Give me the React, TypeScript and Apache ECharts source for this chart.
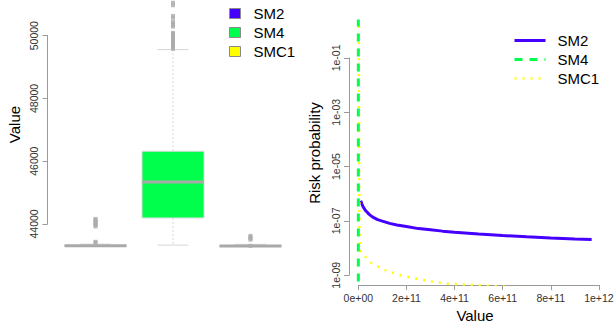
import { useEffect, useRef } from 'react';
import * as echarts from 'echarts';

// ---------- data: left boxplot ----------
const groups = ['SM2', 'SM4', 'SMC1'];
const groupColors = ['#4600FF', '#00FF4C', '#FFFF00'];
// [lower whisker, Q1, median, Q3, upper whisker]
const boxSM2 = [43290, 43296, 43302, 43308, 43356];
const boxSM4 = [43324, 44190, 45333, 46317, 49556];
const boxSMC1 = [43288, 43294, 43300, 43306, 43350];
const outSM2 = [43400, 43430, 43920, 43960, 44000, 44040, 44080, 44120, 44160];
const outSM4 = [49580, 49620, 49660, 49700, 49740, 49780, 49820, 49860, 49900, 49940, 49980, 50020, 50060, 50090, 50290, 50340, 50390, 50440, 50570, 50630, 50970, 51050];
const outSMC1 = [43300, 43500, 43540, 43580, 43620];
const leftTicks = [44000, 46000, 48000, 50000];
const leftTickLabels = ['44000', '46000', '48000', '50000'];

// ---------- data: right risk curves ----------
const riskX_SM2 = [0.01e12, 0.015e12, 0.02e12, 0.03e12, 0.045e12, 0.06e12, 0.08e12, 0.1e12, 0.13e12, 0.16e12, 0.2e12, 0.25e12, 0.3e12, 0.35e12, 0.4e12, 0.5e12, 0.6e12, 0.7e12, 0.8e12, 0.9e12, 0.97e12];
const riskSM2 = [5.5e-7, 4.2e-7, 3.3e-7, 2.4e-7, 1.74e-7, 1.38e-7, 1.12e-7, 9.8e-8, 8.1e-8, 7.1e-8, 6.2e-8, 5.2e-8, 4.7e-8, 4.2e-8, 3.8e-8, 3.3e-8, 2.9e-8, 2.6e-8, 2.35e-8, 2.15e-8, 2.05e-8];
const riskX_SM4 = [0, 0];
const riskSM4 = [10, 1e-11];
const riskX_SMC1 = [0.002e12, 0.003e12, 0.005e12, 0.008e12, 0.022e12, 0.057e12, 0.105e12, 0.174e12, 0.243e12, 0.31e12, 0.38e12, 0.506e12, 0.7e12, 0.97e12];
const riskSMC1 = [1.5, 1e-4, 3e-8, 8.3e-9, 5.5e-9, 2.7e-9, 1.62e-9, 1.0e-9, 7.4e-10, 5.75e-10, 4.8e-10, 4.27e-10, 3.3e-10, 2.4e-10];
const xTicks = [0, 2e11, 4e11, 6e11, 8e11, 1e12];
const xTickLabels = ['0e+00', '2e+11', '4e+11', '6e+11', '8e+11', '1e+12'];
const yTicks = [1e-9, 1e-7, 1e-5, 1e-3, 1e-1];
const yTickLabels = ['1e-09', '1e-07', '1e-05', '1e-03', '1e-01'];

const FONT = 'Liberation Sans, Arial, Helvetica, sans-serif';
const AXIS_COLOR = '#9a9a9a';
const LABEL_COLOR = '#333';

export default function App() {
  const ref = useRef<HTMLDivElement>(null);
  useEffect(() => {
    if (!ref.current) return;
    const chart = echarts.init(ref.current, undefined, { renderer: 'svg' });

    // left layout
    const lG = { left: 47.5, top: -7, width: 251, height: 263 };
    const allLeft = [...boxSM2, ...boxSM4, ...boxSMC1, ...outSM2, ...outSM4, ...outSMC1];
    const lMinD = Math.min(...allLeft), lMaxD = Math.max(...allLeft);
    const lPad = (lMaxD - lMinD) * 0.04;
    const lMin = lMinD - lPad, lMax = lMaxD + lPad;
    const lyPx = (v: number) => lG.top + (lMax - v) / (lMax - lMin) * lG.height;
    const lAxisTop = lyPx(leftTicks[leftTicks.length - 1]);
    const lAxisBot = lyPx(leftTicks[0]);

    // right layout
    const rG = { left: 349, top: 21, width: 252, height: 264 };
    const rxMaxD = riskX_SM2[riskX_SM2.length - 1];
    const rxMin = -0.04 * rxMaxD, rxMax = rxMaxD * 1.04;
    const lyLo = Math.log10(yTicks[0]), lyHi = 0;
    const ryPad = (lyHi - lyLo) * 0.04;
    const ryMin = lyLo - ryPad, ryMax = lyHi + ryPad;
    const rxPx = (v: number) => rG.left + (v - rxMin) / (rxMax - rxMin) * rG.width;
    const ryPx = (v: number) => rG.top + (ryMax - Math.log10(v)) / (ryMax - ryMin) * rG.height;
    const g3 = {
      left: rxPx(xTicks[0]),
      width: rxPx(xTicks[xTicks.length - 1]) - rxPx(xTicks[0]),
      top: ryPx(yTicks[yTicks.length - 1]),
      height: ryPx(yTicks[0]) - ryPx(yTicks[yTicks.length - 1]),
    };

    const renderBox = (params: any, api: any) => {
      const x = api.value(0);
      const vals = [1, 2, 3, 4, 5].map((i) => api.value(i));
      const [pLo, pQ1, pMed, pQ3, pHi] = vals.map((v) => api.coord([x, v]));
      const bw = api.size([0.8, 0])[0];
      const cx = pLo[0];
      const color = api.visual('color');
      const wh = { stroke: '#d6d6d6', lineWidth: 1, lineDash: [2, 2] };
      const st = { stroke: '#d6d6d6', lineWidth: 1 };
      return {
        type: 'group',
        children: [
          { type: 'line', shape: { x1: cx, y1: pQ3[1], x2: cx, y2: pHi[1] }, style: wh },
          { type: 'line', shape: { x1: cx, y1: pQ1[1], x2: cx, y2: pLo[1] }, style: wh },
          { type: 'line', shape: { x1: cx - bw / 4, y1: pHi[1], x2: cx + bw / 4, y2: pHi[1] }, style: st },
          { type: 'line', shape: { x1: cx - bw / 4, y1: pLo[1], x2: cx + bw / 4, y2: pLo[1] }, style: st },
          { type: 'rect', shape: { x: cx - bw / 2, y: pQ3[1], width: bw, height: pQ1[1] - pQ3[1] }, style: { fill: color, stroke: '#dcdcdc', lineWidth: 1 } },
          { type: 'line', shape: { x1: cx - bw / 2, y1: pMed[1], x2: cx + bw / 2, y2: pMed[1] }, style: { stroke: '#a9a9a9', lineWidth: 3 } },
        ],
      };
    };

    const boxes = [boxSM2, boxSM4, boxSMC1];
    const outs = [outSM2, outSM4, outSMC1];
    const boxSeries = groups.map((g, i) => ({
      type: 'custom',
      name: g,
      xAxisIndex: 0,
      yAxisIndex: 0,
      renderItem: renderBox,
      itemStyle: { color: groupColors[i] },
      encode: { x: 0, y: [1, 2, 3, 4, 5] },
      data: [[i + 1, ...boxes[i]]],
      silent: true,
    }));
    const outlierSeries = {
      type: 'scatter',
      name: 'outliers',
      xAxisIndex: 0,
      yAxisIndex: 0,
      symbol: 'rect',
      symbolSize: 4,
      itemStyle: { color: '#ababab' },
      silent: true,
      data: outs.flatMap((arr, i) => arr.map((v) => [i + 1, v])),
    };

    const lineBase = { type: 'line', xAxisIndex: 2, yAxisIndex: 2, symbol: 'none', showSymbol: false, silent: true, clip: true };
    const riskSeries = [
      { ...lineBase, name: 'SM2|r', data: riskX_SM2.map((x, i) => [x, riskSM2[i]]), itemStyle: { color: groupColors[0] }, lineStyle: { color: groupColors[0], width: 3 } },
      { ...lineBase, name: 'SMC1|r', data: riskX_SMC1.map((x, i) => [x, riskSMC1[i]]), itemStyle: { color: groupColors[2] }, lineStyle: { color: groupColors[2], width: 2.5, type: [2, 6] } },
      { ...lineBase, name: 'SM4|r', data: riskX_SM4.map((x, i) => [x, riskSM4[i]]), itemStyle: { color: groupColors[1] }, lineStyle: { color: groupColors[1], width: 3, type: [8, 7] } },
    ];

    const noAxis = { show: false };
    const nearest = (arr: number[], v: number, log = false) => {
      let best = 0, bd = Infinity;
      arr.forEach((t, i) => {
        const d = log ? Math.abs(Math.log10(t) - Math.log10(v)) : Math.abs(t - v);
        if (d < bd) { bd = d; best = i; }
      });
      return best;
    };

    const option: any = {
      animation: false,
      textStyle: { fontFamily: FONT },
      grid: [
        { ...lG, outerBoundsMode: 'none', containLabel: false },
        { left: lG.left, top: lAxisTop, width: 10, height: lAxisBot - lAxisTop, outerBoundsMode: 'none', containLabel: false },
        { ...rG, outerBoundsMode: 'none', containLabel: false },
        { ...g3, outerBoundsMode: 'none', containLabel: false },
      ],
      xAxis: [
        { type: 'value', gridIndex: 0, min: 0.38, max: 3.62, ...noAxis },
        { type: 'value', gridIndex: 1, min: 0, max: 1, ...noAxis },
        {
          type: 'value', gridIndex: 2, min: rxMin, max: rxMax,
          axisLine: { show: false, onZero: false },
          splitLine: { show: false },
          axisTick: { show: true, length: 5, customValues: xTicks, lineStyle: { color: AXIS_COLOR } },
          axisLabel: { show: true, customValues: xTicks, margin: 7, fontSize: 10.5, color: LABEL_COLOR, fontFamily: FONT, formatter: (v: number) => xTickLabels[nearest(xTicks, v)] },
          name: 'Value', nameLocation: 'middle', nameGap: 20,
          nameTextStyle: { fontSize: 15, color: '#000', fontFamily: FONT },
        },
        {
          type: 'value', gridIndex: 3, min: xTicks[0], max: xTicks[xTicks.length - 1],
          offset: rG.top + rG.height - (g3.top + g3.height),
          axisLine: { show: true, onZero: false, lineStyle: { color: AXIS_COLOR, width: 1 } },
          axisTick: { show: false }, axisLabel: { show: false }, splitLine: { show: false },
        },
      ],
      yAxis: [
        {
          type: 'value', gridIndex: 0, min: lMin, max: lMax,
          axisLine: { show: false, onZero: false },
          splitLine: { show: false },
          axisTick: { show: true, length: 5, customValues: leftTicks, lineStyle: { color: AXIS_COLOR } },
          axisLabel: { show: true, customValues: leftTicks, rotate: 90, margin: 8, fontSize: 10.5, color: LABEL_COLOR, fontFamily: FONT, formatter: (v: number) => leftTickLabels[nearest(leftTicks, v)] },
          name: 'Value', nameLocation: 'middle', nameGap: 26,
          nameTextStyle: { fontSize: 15, color: '#000', fontFamily: FONT },
        },
        {
          type: 'value', gridIndex: 1, min: leftTicks[0], max: leftTicks[leftTicks.length - 1],
          axisLine: { show: true, onZero: false, lineStyle: { color: AXIS_COLOR, width: 1 } },
          axisTick: { show: false }, axisLabel: { show: false }, splitLine: { show: false },
        },
        {
          type: 'log', logBase: 10, gridIndex: 2, min: Math.pow(10, ryMin), max: Math.pow(10, ryMax),
          axisLine: { show: false, onZero: false },
          splitLine: { show: false },
          minorTick: { show: false }, minorSplitLine: { show: false },
          axisTick: { show: true, length: 5, customValues: yTicks, lineStyle: { color: AXIS_COLOR } },
          axisLabel: { show: true, customValues: yTicks, rotate: 90, margin: 8, fontSize: 10.5, color: LABEL_COLOR, fontFamily: FONT, formatter: (v: number) => yTickLabels[nearest(yTicks, v, true)] },
          name: 'Risk probability', nameLocation: 'middle', nameGap: 27,
          nameTextStyle: { fontSize: 15, color: '#000', fontFamily: FONT },
        },
        {
          type: 'log', logBase: 10, gridIndex: 3, min: yTicks[0], max: yTicks[yTicks.length - 1],
          offset: g3.left - rG.left,
          axisLine: { show: true, onZero: false, lineStyle: { color: AXIS_COLOR, width: 1 } },
          axisTick: { show: false }, axisLabel: { show: false }, splitLine: { show: false },
        },
      ],
      legend: [
        {
          data: groups, orient: 'vertical', left: 224, top: 1,
          icon: 'rect', itemWidth: 11, itemHeight: 10, itemGap: 4,
          selectedMode: false,
          itemStyle: { borderColor: '#8a8a8a', borderWidth: 1 },
          textStyle: { fontSize: 15, color: '#000', fontFamily: FONT, padding: [0, 0, 0, 8] },
        },
        {
          data: [
            { name: 'SM2|r', lineStyle: { width: 3 } },
            { name: 'SM4|r', lineStyle: { width: 3 } },
            { name: 'SMC1|r', lineStyle: { width: 2.5 } },
          ],
          formatter: (n: string) => n.split('|')[0],
          orient: 'vertical', left: 508, top: 28,
          itemWidth: 31, itemHeight: 14, itemGap: 4,
          selectedMode: false,
          itemStyle: { opacity: 0 },
          textStyle: { fontSize: 15, color: '#000', fontFamily: FONT, padding: [0, 0, 0, 7] },
        },
      ],
      series: [...boxSeries, outlierSeries, ...riskSeries],
    };
    chart.setOption(option);
    return () => chart.dispose();
  }, []);
  return <div ref={ref} style={{ position: 'absolute', left: 0, top: 0, width: 614, height: 327, background: '#fff' }} />;
}
